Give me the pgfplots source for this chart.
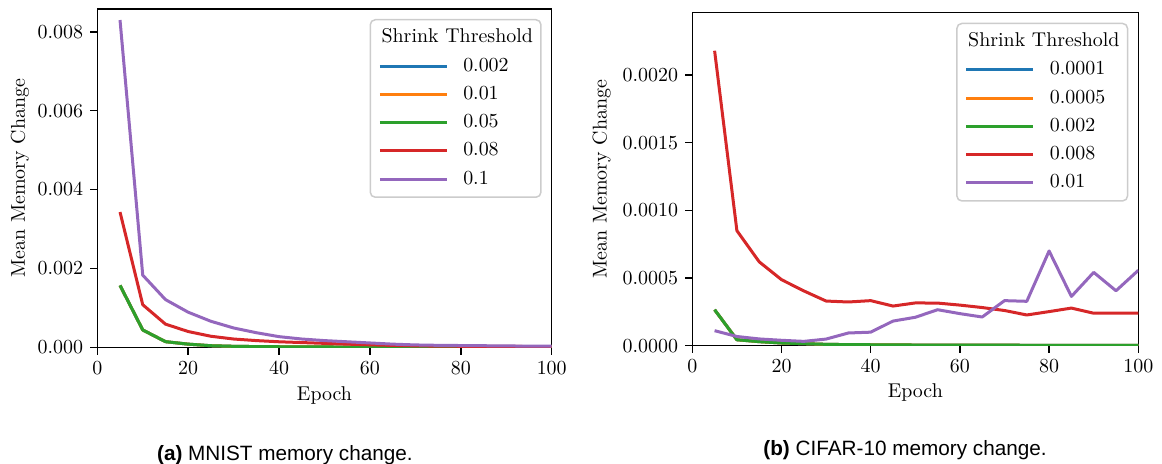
\documentclass[border=0pt]{standalone}
\usepackage{pgfplots}
\pgfplotsset{compat=1.18}
\usepackage{fontspec}
\newfontfamily\capfont{Liberation Sans}
\definecolor{tabblue}{HTML}{1F77B4}
\definecolor{taborange}{HTML}{FF7F0E}
\definecolor{tabgreen}{HTML}{2CA02C}
\definecolor{tabred}{HTML}{D62728}
\definecolor{tabpurple}{HTML}{9467BD}

\pgfplotsset{
  memstyle/.style={
    scale only axis,
    xmin=0, xmax=100,
    xtick={0,20,40,60,80,100},
    tick align=outside,
    xtick pos=left, ytick pos=left,
    major tick length=3.6bp,
    axis line style={line width=0.75bp, black},
    tick style={line width=0.75bp, black},
    scaled y ticks=false,
    font=\fontsize{10}{12}\selectfont,
    tick label style={font=\fontsize{10.2}{12}\selectfont},
    xlabel={Epoch},
    ylabel={Mean Memory Change},
    legend style={at={(1,1)}, anchor=north east, xshift=-5bp, yshift=-5bp,
      draw=black!20, rounded corners=2.5bp, line width=0.75bp,
      inner xsep=4bp, inner ysep=4.5bp, row sep=5.15bp, column sep=7.5bp,
      font=\fontsize{10}{12}\selectfont,
      nodes={inner sep=0pt, text height=7bp, text depth=2bp},
      cells={anchor=west}},
    legend image code/.code={\path (0bp,0bp) -- (11.5bp,0bp); \draw[#1] (11.5bp,0bp) -- (33.5bp,0bp);},
    every axis plot/.append style={line width=1.5bp, no markers, line join=round},
  },
}

\begin{document}
\begin{tikzpicture}
\path[use as bounding box] (0,0) rectangle (581bp,232bp);

\begin{axis}[memstyle,
  at={(48.65bp,58.35bp)}, anchor=south west,
  width=227.2bp, height=169.15bp,
  ymin=0, ymax=0.00858,
  ytick={0,0.002,0.004,0.006,0.008},
  yticklabel style={/pgf/number format/.cd, fixed, fixed zerofill, precision=3},
  ylabel style={at={(axis description cs:0,0.5)}, anchor=center, rotate=0, yshift=38.65bp},
  xlabel style={at={(axis description cs:0.5,0)}, anchor=center, yshift=-24bp},
]
\addlegendimage{empty legend}
\addlegendentry{\hspace*{-40.85bp}Shrink Threshold}
\addplot[tabblue] coordinates {(5,0.00157) (10,0.00044) (15,0.000143) (20,0.00008) (25,0.00004) (30,0.000025) (35,0.000018) (40,0.000014) (45,0.00001) (50,0.000008) (55,0.000007) (60,0.000006) (65,0.000006) (70,0.000005) (75,0.000005) (80,0.000005) (85,0.000004) (90,0.000004) (95,0.000004) (100,0.000004)};
\addlegendentry{0.002}
\addplot[taborange] coordinates {(5,0.00157) (10,0.00044) (15,0.000143) (20,0.00008) (25,0.00004) (30,0.000025) (35,0.000018) (40,0.000014) (45,0.00001) (50,0.000008) (55,0.000007) (60,0.000006) (65,0.000006) (70,0.000005) (75,0.000005) (80,0.000005) (85,0.000004) (90,0.000004) (95,0.000004) (100,0.000004)};
\addlegendentry{0.01}
\addplot[tabgreen] coordinates {(5,0.00157) (10,0.00044) (15,0.000143) (20,0.00008) (25,0.00004) (30,0.000025) (35,0.000018) (40,0.000014) (45,0.00001) (50,0.000008) (55,0.000007) (60,0.000006) (65,0.000006) (70,0.000005) (75,0.000005) (80,0.000005) (85,0.000004) (90,0.000004) (95,0.000004) (100,0.000004)};
\addlegendentry{0.05}
\addplot[tabred] coordinates {(5,0.00343) (10,0.00108) (15,0.000588) (20,0.0004) (25,0.00028) (30,0.00021) (35,0.00017) (40,0.00014) (45,0.00012) (50,0.0001) (55,0.00008) (60,0.000063) (65,0.000048) (70,0.000037) (75,0.00003) (80,0.000026) (85,0.000023) (90,0.000021) (95,0.00002) (100,0.00002)};
\addlegendentry{0.08}
\addplot[tabpurple] coordinates {(5,0.0083) (10,0.00183) (15,0.00121) (20,0.00089) (25,0.00066) (30,0.00049) (35,0.00037) (40,0.00027) (45,0.00021) (50,0.00017) (55,0.00014) (60,0.00011) (65,0.00008) (70,0.00006) (75,0.00005) (80,0.000045) (85,0.00004) (90,0.000035) (95,0.00003) (100,0.00003)};
\addlegendentry{0.1}
\end{axis}

\begin{axis}[memstyle,
  at={(346.15bp,59.15bp)}, anchor=south west,
  width=223bp, height=166.5bp,
  ymin=0, ymax=0.002461,
  ytick={0,0.0005,0.001,0.0015,0.002},
  yticklabel style={/pgf/number format/.cd, fixed, fixed zerofill, precision=4},
  ylabel style={at={(axis description cs:0,0.5)}, anchor=center, yshift=45.3bp},
  xlabel style={at={(axis description cs:0.5,0)}, anchor=center, yshift=-23.2bp},
]
\addlegendimage{empty legend}
\addlegendentry{\hspace*{-40.85bp}Shrink Threshold}
\addplot[tabblue] coordinates {(5,0.000266) (10,0.000044) (15,0.00003) (20,0.00002) (25,0.000015) (30,0.00001) (35,0.000008) (40,0.000007) (45,0.000006) (50,0.000005) (55,0.000005) (60,0.000004) (65,0.000004) (70,0.000004) (75,0.000003) (80,0.000003) (85,0.000003) (90,0.000003) (95,0.000003) (100,0.000003)};
\addlegendentry{0.0001}
\addplot[taborange] coordinates {(5,0.000266) (10,0.000044) (15,0.00003) (20,0.00002) (25,0.000015) (30,0.00001) (35,0.000008) (40,0.000007) (45,0.000006) (50,0.000005) (55,0.000005) (60,0.000004) (65,0.000004) (70,0.000004) (75,0.000003) (80,0.000003) (85,0.000003) (90,0.000003) (95,0.000003) (100,0.000003)};
\addlegendentry{0.0005}
\addplot[tabgreen] coordinates {(5,0.000266) (10,0.000044) (15,0.00003) (20,0.00002) (25,0.000015) (30,0.00001) (35,0.000008) (40,0.000007) (45,0.000006) (50,0.000005) (55,0.000005) (60,0.000004) (65,0.000004) (70,0.000004) (75,0.000003) (80,0.000003) (85,0.000003) (90,0.000003) (95,0.000003) (100,0.000003)};
\addlegendentry{0.002}
\addplot[tabred] coordinates {(5,0.00218) (10,0.00085) (15,0.00062) (20,0.000488) (25,0.000405) (30,0.00033) (35,0.000323) (40,0.000333) (45,0.000293) (50,0.000316) (55,0.000315) (60,0.0003) (65,0.000282) (70,0.00026) (75,0.000227) (80,0.000252) (85,0.000278) (90,0.00024) (95,0.00024) (100,0.00024)};
\addlegendentry{0.008}
\addplot[tabpurple] coordinates {(5,0.000111) (10,0.000068) (15,0.00005) (20,0.00004) (25,0.000032) (30,0.000049) (35,0.000094) (40,0.0001) (45,0.000182) (50,0.00021) (55,0.000266) (60,0.000237) (65,0.000212) (70,0.000333) (75,0.000328) (80,0.0007) (85,0.000364) (90,0.000542) (95,0.000406) (100,0.000557)};
\addlegendentry{0.01}
\end{axis}

\node[anchor=base west, inner sep=0pt, font=\capfont\fontsize{10.4}{12}\selectfont] at (78.35bp,2bp) {\textbf{(a)} MNIST memory change.};
\node[anchor=base west, inner sep=0pt, font=\capfont\fontsize{10.4}{12}\selectfont] at (381.5bp,4.5bp) {\textbf{(b)} CIFAR-10 memory change.};
\end{tikzpicture}
\end{document}
